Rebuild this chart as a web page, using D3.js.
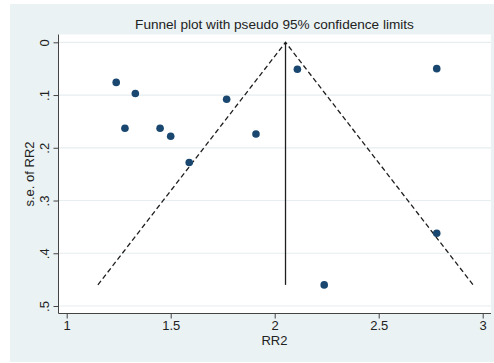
<!DOCTYPE html>
<html>
<head>
<meta charset="utf-8">
<script src="https://cdn.jsdelivr.net/npm/d3@7"></script>
<style>
  body { margin: 0; background: #fff; }
  svg { display: block; font-family: "Liberation Sans", Arial, sans-serif; }
</style>
</head>
<body>
<script>
// study estimates: RR2 and its standard error
var rr2 = [1.238, 1.330, 1.280, 1.449, 1.500, 1.589, 1.769, 1.910, 2.109, 2.238, 2.779, 2.779];
var se  = [0.076, 0.097, 0.163, 0.163, 0.178, 0.228, 0.108, 0.174, 0.051, 0.460, 0.050, 0.362];

// pseudo 95% limits: left end, pooled estimate, right end
var funnelX  = [1.150, 2.052, 2.954];
var funnelSE = [0.460, 0, 0.460];

var xTicks = [1, 1.5, 2, 2.5, 3];
var yTicks = [0, 0.1, 0.2, 0.3, 0.4, 0.5];
var yTickLabels = ["0", ".1", ".2", ".3", ".4", ".5"];

var W = 494, H = 363;
var plot = {left: 58.5, right: 491, top: 34.5, bottom: 313.5};

var svg = d3.select("body").append("svg")
    .attr("width", W)
    .attr("height", H);

// outer (graph region) background
svg.append("rect")
    .attr("x", 10).attr("y", 4)
    .attr("width", W - 10).attr("height", 358)
    .attr("fill", "#eaf2f3");

// plot region
svg.append("rect")
    .attr("x", plot.left).attr("y", plot.top)
    .attr("width", plot.right - plot.left)
    .attr("height", plot.bottom - plot.top)
    .attr("fill", "#fff");

var xScale = d3.scaleLinear().domain([1, 3]).range([66.7, 482.7]);
var yScale = d3.scaleLinear().domain([0, 0.5]).range([42.3, 306]);

// grid
svg.append("g").selectAll("line")
    .data(yTicks)
    .enter().append("line")
    .attr("x1", plot.left).attr("x2", plot.right)
    .attr("y1", function(d){ return yScale(d); })
    .attr("y2", function(d){ return yScale(d); })
    .attr("stroke", "#e6eef0")
    .attr("stroke-width", 1.2);

// funnel
var line = d3.line()
    .x(function(d){ return xScale(d[0]); })
    .y(function(d){ return yScale(d[1]); });

svg.append("path")
    .datum(d3.zip(funnelX, funnelSE))
    .attr("d", line)
    .attr("fill", "none")
    .attr("stroke", "#1e1e1e")
    .attr("stroke-width", 1.3)
    .attr("stroke-dasharray", "5,3");

svg.append("path")
    .datum([[funnelX[1], 0], [funnelX[1], funnelSE[0]]])
    .attr("d", line)
    .attr("fill", "none")
    .attr("stroke", "#1e1e1e")
    .attr("stroke-width", 1.3);

// points
svg.append("g").selectAll("circle")
    .data(d3.zip(rr2, se))
    .enter().append("circle")
    .attr("cx", function(d){ return xScale(d[0]); })
    .attr("cy", function(d){ return yScale(d[1]); })
    .attr("r", 3.8)
    .attr("fill", "#1a476f");

// axes
var xAxis = d3.axisBottom(xScale).tickValues(xTicks)
    .tickFormat(d3.format("")).tickSize(5);
var yAxis = d3.axisLeft(yScale).tickValues(yTicks)
    .tickFormat(function(d, i){ return yTickLabels[i]; }).tickSize(5);

var xG = svg.append("g")
    .attr("transform", "translate(0," + plot.bottom + ")")
    .call(xAxis);
xG.select(".domain").attr("d", "M" + plot.left + ",0H" + plot.right);

var yG = svg.append("g")
    .attr("transform", "translate(" + plot.left + ",0)")
    .call(yAxis);
yG.select(".domain").attr("d", "M0," + plot.top + "V" + plot.bottom);

svg.selectAll(".domain, .tick line").attr("stroke", "#444").attr("stroke-width", 1);
xG.selectAll(".tick text")
    .attr("y", 16.8).attr("dy", null)
    .attr("font-size", 13).attr("fill", "#222")
    .attr("font-family", "Liberation Sans, Arial, sans-serif");

yG.selectAll(".tick text")
    .attr("x", null).attr("dy", null)
    .attr("text-anchor", "middle")
    .attr("transform", "translate(-10,0) rotate(-90)")
    .attr("y", 0)
    .attr("font-size", 13).attr("fill", "#222")
    .attr("font-family", "Liberation Sans, Arial, sans-serif");

// labels
svg.append("text")
    .attr("x", 274.5).attr("y", 29)
    .attr("text-anchor", "middle")
    .attr("font-size", 13.6).attr("fill", "#222")
    .text("Funnel plot with pseudo 95% confidence limits");

svg.append("text")
    .attr("x", 274.5).attr("y", 345)
    .attr("text-anchor", "middle")
    .attr("font-size", 13).attr("fill", "#222")
    .text("RR2");

svg.append("text")
    .attr("transform", "translate(34," + ((plot.top + plot.bottom) / 2) + ") rotate(-90)")
    .attr("text-anchor", "middle")
    .attr("font-size", 13).attr("fill", "#222")
    .text("s.e. of RR2");
</script>
</body>
</html>
